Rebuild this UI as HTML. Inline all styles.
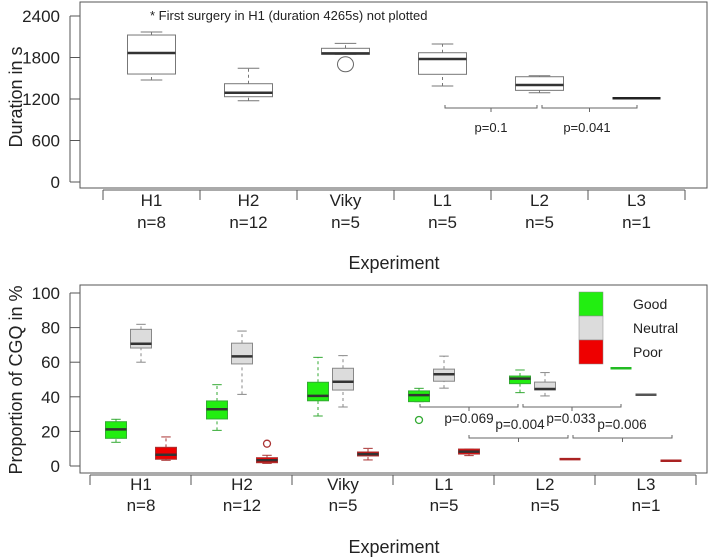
<!DOCTYPE html>
<html><head><meta charset="utf-8"><style>
html,body{margin:0;padding:0;background:#fff;}
svg{display:block;font-family:"Liberation Sans",Arial,sans-serif;}
</style></head><body>
<svg id="chart" width="709" height="557" viewBox="0 0 709 557" xmlns="http://www.w3.org/2000/svg">
<g id="top"></g>
<g id="bot"></g>
</svg>
<script>
// ---- data ----
const groups = ["H1","H2","Viky","L1","L2","L3"];
const counts = ["n=8","n=12","n=5","n=5","n=5","n=1"];
const durTicks = [0,600,1200,1800,2400];
// [whiskerLow, q1, median, q3, whiskerHigh]
const durStats = [
 [1475,1561,1865,2125,2169],
 [1175,1233,1291,1421,1644],
 [1846,1846,1860,1933,2005],
 [1388,1557,1778,1869,1995],
 [1291,1325,1402,1522,1537],
 [1210,1210,1210,1210,1210]
];
const durOutliers = [[],[],[1702],[],[],[]];
const durPvals = ["p=0.1","p=0.041"];
const pctTicks = [0,20,40,60,80,100];
const goodStats = [
 [13.7,16,21.2,25.6,27],[20.6,27.2,32.8,37.6,47],[28.9,37.7,40.5,48.4,62.8],
 [37.2,37.2,41,43.4,44.9],[42.4,47.6,50.5,52,55.5],[56.5,56.5,56.5,56.5,56.5]];
const neutralStats = [
 [60,68.2,70.7,79,81.9],[41.4,59,63.4,71,78],[34.1,43.9,48.7,56.5,63.8],
 [45,49,53,56,63.5],[40.5,44,44.5,48.5,54],[41.2,41.2,41.2,41.2,41.2]];
const poorStats = [
 [3.3,3.9,6.5,10.8,16.8],[1.5,1.9,3.3,4.8,6.2],[3.5,5.8,6.9,8.1,10.2],
 [6,6.9,8.3,9.8,9.8],[4,4,4,4,4],[3,3,3,3,3]];
const goodOutliers = [[],[],[],[26.6],[],[]];
const neutralOutliers = [[],[],[],[],[],[]];
const poorOutliers = [[],[12.9],[],[],[],[]];
const cgqPvals = ["p=0.069","p=0.033","p=0.004","p=0.006"];
const legendLabels = ["Good","Neutral","Poor"];

const NS="http://www.w3.org/2000/svg";
function mk(parent,tag,attrs,text){const e=document.createElementNS(NS,tag);for(const k in attrs)e.setAttribute(k,attrs[k]);if(text!==undefined)e.textContent=text;parent.appendChild(e);return e;}

// ---- top panel ----
const T=document.getElementById('top');
const yT=v=>182-(v/600)*41.5;
const xT=i=>151.5+i*97;
let e;
e=mk(T,'rect',{x:80,y:2,width:627,height:186,fill:'none',stroke:'#555','stroke-width':1});

mk(T,'line',{x1:70,y1:yT(0),x2:70,y2:yT(2400),stroke:'#555'});
durTicks.forEach(t=>{
 mk(T,'line',{x1:70,y1:yT(t),x2:80,y2:yT(t),stroke:'#555'});
 e=mk(T,'text',{x:60,y:yT(t)+6,'text-anchor':'end','font-size':17,fill:'#222'},String(t));
 
});
e=mk(T,'text',{x:22,y:97,'text-anchor':'middle','font-size':18,fill:'#222',transform:'rotate(-90 22 97)'},'Duration in s');

mk(T,'line',{x1:103,y1:190,x2:685,y2:190,stroke:'#555'});
for(let k=0;k<=6;k++){mk(T,'line',{x1:103+k*97,y1:190,x2:103+k*97,y2:200,stroke:'#555'});}
groups.forEach((g,i)=>{
 e=mk(T,'text',{x:xT(i),y:206,'text-anchor':'middle','font-size':17,fill:'#222'},g);
 
 e=mk(T,'text',{x:xT(i),y:228,'text-anchor':'middle','font-size':17,fill:'#222'},counts[i]);
 
});
e=mk(T,'text',{x:394,y:269,'text-anchor':'middle','font-size':18,fill:'#222'},'Experiment');

e=mk(T,'text',{x:150,y:20,'font-size':13,fill:'#222'},'* First surgery in H1 (duration 4265s) not plotted');


function box(P,cx,w,s,yf,fill,stroke,wstroke,dash,name,medcol){
 const g=mk(P,'g',{});
 
 const cw=w*0.45;
 const degenerate = s[0]===s[4];
 if(!degenerate){
  mk(g,'line',{x1:cx,y1:yf(s[0]),x2:cx,y2:yf(s[1]),stroke:wstroke,'stroke-dasharray':dash});
  mk(g,'line',{x1:cx,y1:yf(s[3]),x2:cx,y2:yf(s[4]),stroke:wstroke,'stroke-dasharray':dash});
  mk(g,'line',{x1:cx-cw/2,y1:yf(s[0]),x2:cx+cw/2,y2:yf(s[0]),stroke:wstroke});
  mk(g,'line',{x1:cx-cw/2,y1:yf(s[4]),x2:cx+cw/2,y2:yf(s[4]),stroke:wstroke});
  mk(g,'rect',{x:cx-w/2,y:yf(s[3]),width:w,height:Math.max(yf(s[1])-yf(s[3]),0.5),fill:fill,stroke:stroke});
 }
 mk(g,'line',{x1:cx-w/2,y1:yf(s[2]),x2:cx+w/2,y2:yf(s[2]),stroke:degenerate?medcol:'#333','stroke-width':2.5});
 return g;
}
durStats.forEach((s,i)=>{
 box(T,xT(i),48,s,yT,'#fff','#777','#777','3,3','duration-box-'+groups[i].toLowerCase(),'#222');
 durOutliers[i].forEach(o=>{e=mk(T,'ellipse',{cx:xT(i),cy:yT(o),rx:8,ry:7.5,fill:'none',stroke:'#666'});
  });
});
function bracket(P,x1,x2,y,up){
 const g=mk(P,'g',{stroke:'#666',fill:'none'});
 
 mk(g,'path',{d:`M${x1} ${y-up}V${y}H${x2}V${y-up}M${(x1+x2)/2} ${y}v4`});
}
bracket(T,445,537,108,3);bracket(T,542,637,108,3);
[491,587].forEach((x,i)=>{e=mk(T,'text',{x:x,y:132,'text-anchor':'middle','font-size':13,fill:'#222'},durPvals[i]);
 });

// ---- bottom panel ----
const B=document.getElementById('bot');
const yB=v=>466-v*1.73;
const xB=i=>141+i*101;
e=mk(B,'rect',{x:80,y:285,width:627,height:188,fill:'none',stroke:'#555'});

mk(B,'line',{x1:70,y1:yB(0),x2:70,y2:yB(100),stroke:'#555'});
pctTicks.forEach(t=>{
 mk(B,'line',{x1:70,y1:yB(t),x2:80,y2:yB(t),stroke:'#555'});
 e=mk(B,'text',{x:60,y:yB(t)+6,'text-anchor':'end','font-size':17,fill:'#222'},String(t));
 
});
e=mk(B,'text',{x:22,y:380,'text-anchor':'middle','font-size':18,fill:'#222',transform:'rotate(-90 22 380)'},'Proportion of CGQ in %');

mk(B,'line',{x1:90,y1:475,x2:696,y2:475,stroke:'#555'});
for(let k=0;k<=6;k++){mk(B,'line',{x1:90+k*101,y1:475,x2:90+k*101,y2:485,stroke:'#555'});}
groups.forEach((g,i)=>{
 e=mk(B,'text',{x:xB(i),y:490,'text-anchor':'middle','font-size':17,fill:'#222'},g);
 
 e=mk(B,'text',{x:xB(i),y:511,'text-anchor':'middle','font-size':17,fill:'#222'},counts[i]);
 
});
e=mk(B,'text',{x:394,y:553,'text-anchor':'middle','font-size':18,fill:'#222'},'Experiment');


const series=[
 {stats:goodStats,out:goodOutliers,off:-25,fill:'#22ee11',stroke:'#33aa33',med:'#22bb22',name:'good'},
 {stats:neutralStats,out:neutralOutliers,off:0,fill:'#dcdcdc',stroke:'#888',med:'#555',name:'neutral'},
 {stats:poorStats,out:poorOutliers,off:25,fill:'#ee0000',stroke:'#aa3333',med:'#aa2222',name:'poor'}];
series.forEach(sr=>{
 sr.stats.forEach((s,i)=>{
  box(B,xB(i)+sr.off,21,s,yB,sr.fill,sr.stroke,sr.stroke,'3,3','box-'+sr.name+'-'+groups[i].toLowerCase(),sr.med);
  sr.out[i].forEach(o=>{e=mk(B,'circle',{cx:xB(i)+sr.off,cy:yB(o),r:3.5,fill:'none',stroke:sr.stroke,'stroke-width':1.3});
   });
 });
});
bracket(B,420,518,407,3);bracket(B,523,621,407,3);
bracket(B,469,568,438,3);bracket(B,573,672,438,3);
[[469,423],[571,423],[520,429],[622,429]].forEach((p,i)=>{
 e=mk(B,'text',{x:p[0],y:p[1],'text-anchor':'middle','font-size':13.5,fill:'#222'},cgqPvals[i]);
 });
// legend
const lg=mk(B,'g',{});

const lcol=['#22ee11','#dcdcdc','#ee0000'];
legendLabels.forEach((l,i)=>{
 e=mk(lg,'rect',{x:579,y:292+i*24,width:24,height:24,fill:lcol[i],stroke:'#888','stroke-width':0.5});
 
 e=mk(lg,'text',{x:633,y:309+i*24,'font-size':14,fill:'#222'},l);
 
});
</script>
</body></html>
